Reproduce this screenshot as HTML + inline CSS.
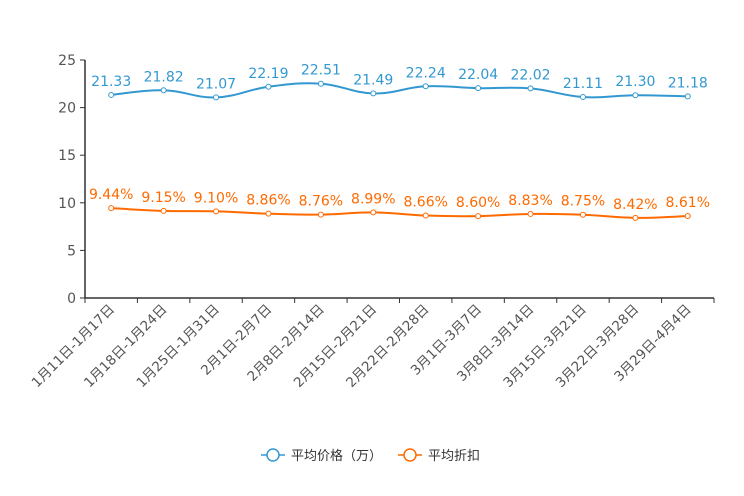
<!DOCTYPE html>
<html><head><meta charset="utf-8"><style>
body{margin:0;background:#fff;}
svg{display:block;font-family:"DejaVu Sans","Noto Sans CJK SC",sans-serif;}
</style></head><body>
<svg id="chart" width="744" height="496"></svg>
<script>
const categories=["1月11日-1月17日","1月18日-1月24日","1月25日-1月31日","2月1日-2月7日","2月8日-2月14日","2月15日-2月21日","2月22日-2月28日","3月1日-3月7日","3月8日-3月14日","3月15日-3月21日","3月22日-3月28日","3月29日-4月4日"];
const priceValues=[21.33,21.82,21.07,22.19,22.51,21.49,22.24,22.04,22.02,21.11,21.30,21.18];
const discountValues=[9.44,9.15,9.10,8.86,8.76,8.99,8.66,8.60,8.83,8.75,8.42,8.61];
const yTicks=[0,5,10,15,20,25];
const NS="http://www.w3.org/2000/svg";
const svg=document.getElementById('chart');
const L=85,R=714,T=60,B=298,yMax=25;
const bw=(R-L)/categories.length;
const x=i=>L+bw*(i+0.5);
const y=v=>B-(v/yMax)*(B-T);
function mk(tag,attrs,parent){const e=document.createElementNS(NS,tag);for(const k in attrs)e.setAttribute(k,attrs[k]);(parent||svg).appendChild(e);return e;}
const ya=mk('g',{});


mk('line',{x1:L,y1:T,x2:L,y2:B,stroke:'#333','stroke-width':1.5},ya);
yTicks.forEach(t=>{
  mk('line',{x1:L-5,y1:y(t),x2:L,y2:y(t),stroke:'#333'},ya);
  const tx=mk('text',{x:L-9,y:y(t)+5,'text-anchor':'end','font-size':14,fill:'#555'},ya);
  tx.textContent=t;
  
  
});
const xa=mk('g',{});


mk('line',{x1:L,y1:B,x2:R,y2:B,stroke:'#333','stroke-width':1.5},xa);
for(let i=0;i<=categories.length;i++)mk('line',{x1:L+bw*i,y1:B,x2:L+bw*i,y2:B+5,stroke:'#333'},xa);
categories.forEach((c,i)=>{
  const tx=mk('text',{x:x(i)+4,y:B+12,'text-anchor':'end','font-size':13.5,fill:'#555',transform:`rotate(-45 ${x(i)+4} ${B+12})`},xa);
  tx.textContent=c;
  
  
});
function smooth(pts){
  let d=`M${pts[0][0]},${pts[0][1]}`;
  for(let i=0;i<pts.length-1;i++){
    const p0=pts[i-1]||pts[i],p1=pts[i],p2=pts[i+1],p3=pts[i+2]||p2,s=0.2;
    d+=` C${p1[0]+(p2[0]-p0[0])*s},${p1[1]+(p2[1]-p0[1])*s} ${p2[0]-(p3[0]-p1[0])*s},${p2[1]-(p3[1]-p1[1])*s} ${p2[0]},${p2[1]}`;
  }
  return d;
}
function series(vals,color,name,fmt){
  const g=mk('g',{});
  
  
  const pts=vals.map((v,i)=>[x(i),y(v)]);
  mk('path',{d:smooth(pts),fill:'none',stroke:color,'stroke-width':2},g);
  pts.forEach((p,i)=>{
    const c=mk('circle',{cx:p[0],cy:p[1],r:2.5,fill:'#fff',stroke:color,'stroke-width':1},g);
    
    
    const t=mk('text',{x:p[0],y:p[1]-9,'text-anchor':'middle','font-size':14,fill:color},g);
    t.textContent=fmt(vals[i]);
    
    
  });
}
series(priceValues,'#3398d1','price-series',v=>v.toFixed(2));
series(discountValues,'#ff6a00','discount-series',v=>v.toFixed(2)+'%');
function legend(lx,color,label){
  const g=mk('g',{});
  
  
  mk('line',{x1:lx,y1:455,x2:lx+24,y2:455,stroke:color,'stroke-width':1.5},g);
  mk('circle',{cx:lx+12,cy:455,r:6,fill:'#fff',stroke:color,'stroke-width':1.5},g);
  const t=mk('text',{x:lx+30,y:460,'font-size':13,fill:'#333'},g);
  t.textContent=label;
}
legend(261,'#3398d1','平均价格（万）');
legend(398,'#ff6a00','平均折扣');
</script>
</body></html>
